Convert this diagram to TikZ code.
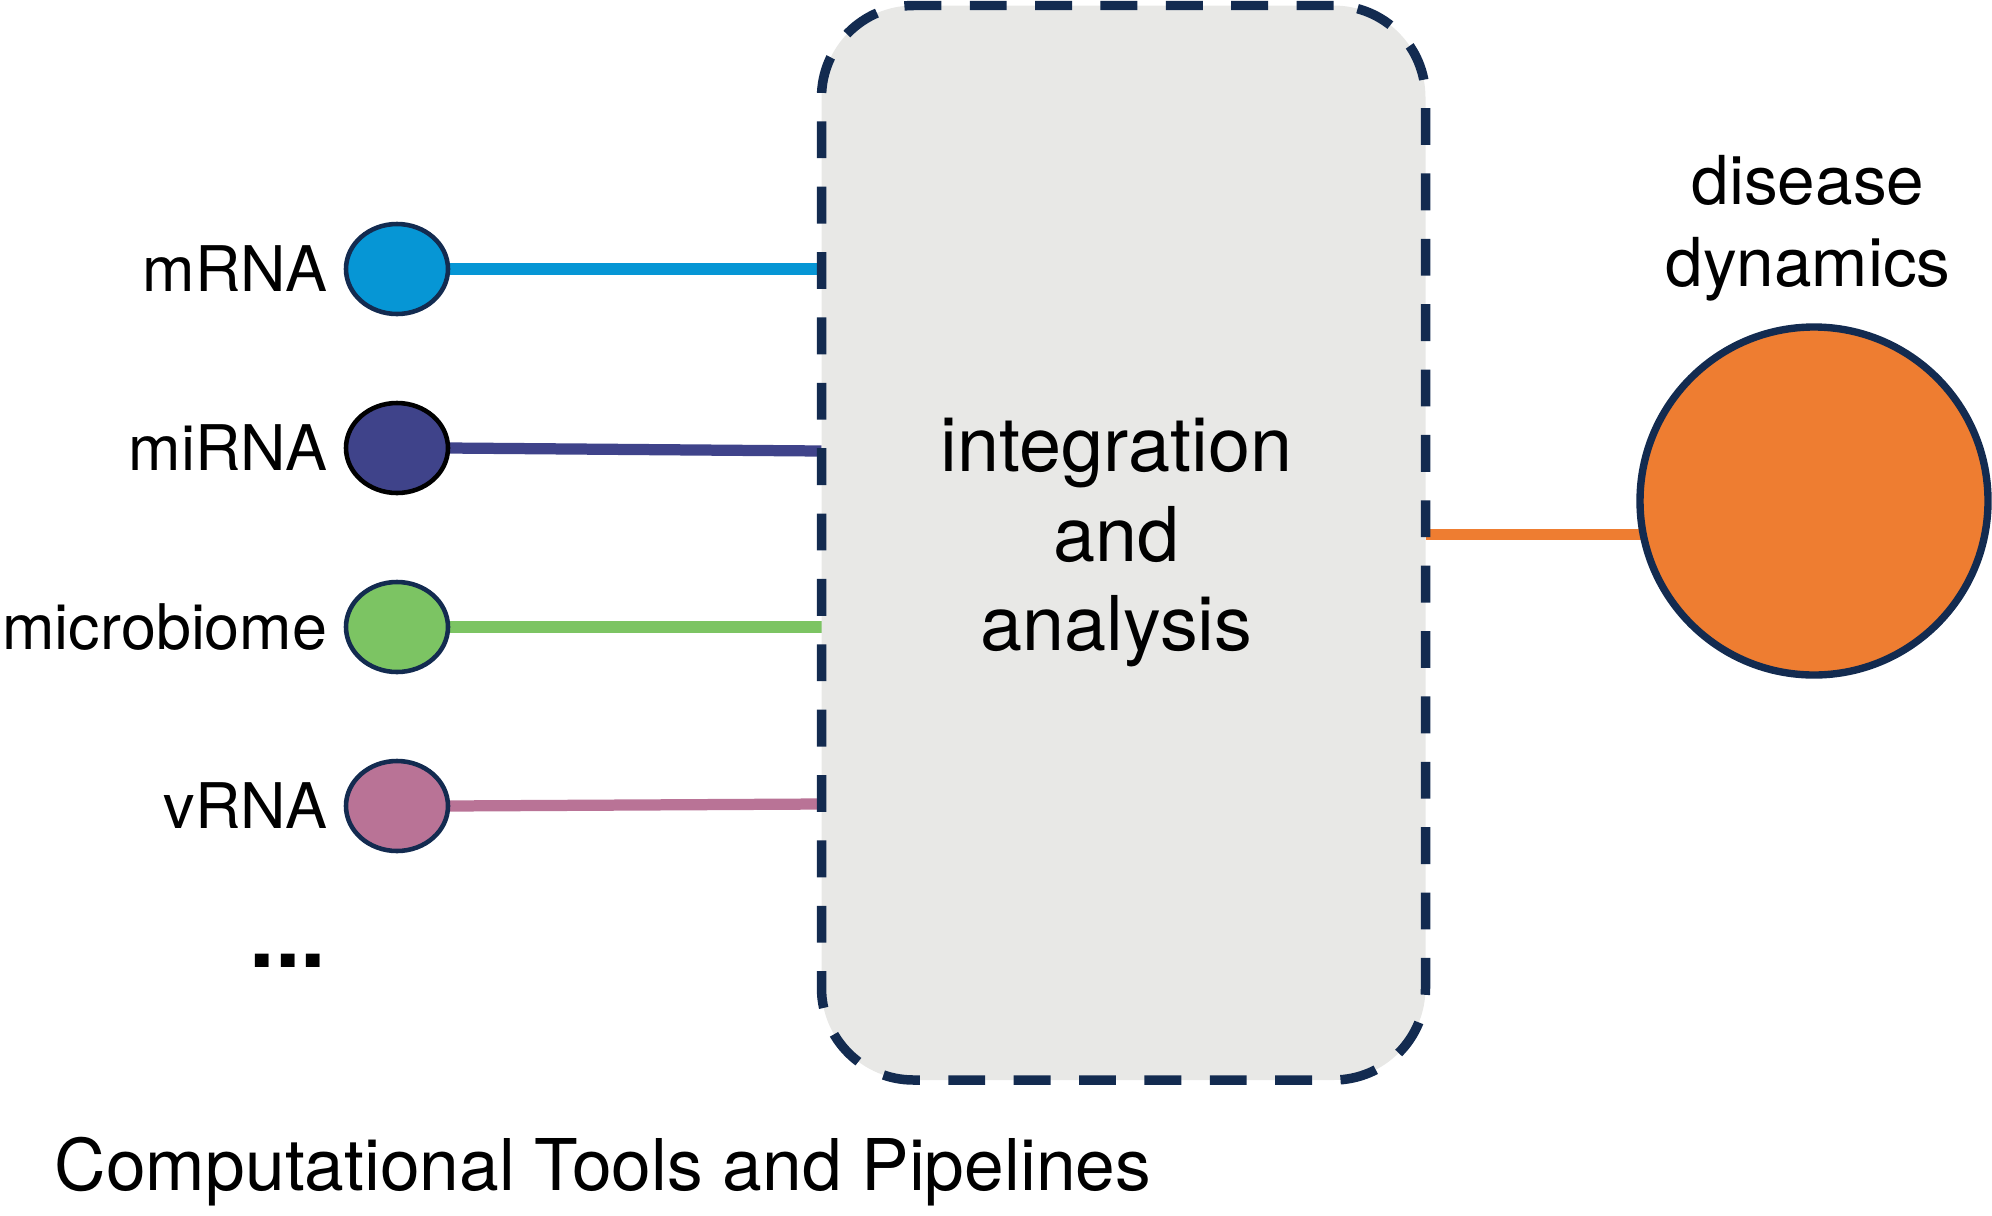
\documentclass[tikz,border=0pt]{standalone}
\usepackage{fontspec}
\setmainfont{TeX Gyre Heros}
\usepackage{tikz}
\usetikzlibrary{positioning,shapes.geometric,calc,backgrounds}

\definecolor{navy}{RGB}{19,43,80}
\definecolor{mrnablue}{RGB}{6,150,213}
\definecolor{mirnapurple}{RGB}{63,67,138}
\definecolor{microgreen}{RGB}{124,196,99}
\definecolor{vrnapink}{RGB}{185,115,150}
\definecolor{dynorange}{RGB}{238,125,49}
\definecolor{boxgray}{RGB}{232,232,230}

\tikzset{
  omic/.style={ellipse, draw=navy, line width=1.3pt, minimum width=1.02cm,
    minimum height=0.9cm, inner sep=0pt, outer sep=0pt},
  omiclabel/.style={inner sep=0pt, font=\fontsize{17.9}{21}\selectfont},
  intbox/.style={draw=navy, fill=boxgray, line width=2.7pt, rounded corners=0.92cm,
    dash pattern=on 10.5pt off 8.1pt, minimum width=6.04cm, minimum height=10.745cm,
    inner sep=0pt, outer sep=0pt},
  target/.style={circle, draw=navy, fill=dynorange, line width=2.1pt,
    minimum size=3.48cm, outer sep=0pt},
  link/.style={line width=3.2pt},
}

\begin{document}
\begin{tikzpicture}[node distance=1.79cm]
  \useasboundingbox (0,0) rectangle (19.92,-12.15);

  % data sources
  \node[omic, fill=mrnablue] (mrna) at (3.97,-2.69) {};
  \node[omic, fill=mirnapurple, draw=black] (mirna) [below of=mrna] {};
  \node[omic, fill=microgreen] (micro) [below of=mirna] {};
  \node[omic, fill=vrnapink] (vrna) [below of=micro] {};

  \node[omiclabel, left=0.18cm of mrna] (mrnalabel) {mRNA};
  \node[omiclabel, left=0.18cm of mirna] (mirnalabel) {miRNA};
  \node[omiclabel, left=0.18cm of micro] (microlabel) {microbiome};
  \node[omiclabel, left=0.18cm of vrna] (vrnalabel) {vRNA};
  \node[anchor=base, inner sep=0pt, font=\bfseries\fontsize{26}{30}\selectfont] (more) at (2.88,-9.67) {...};

  % integration
  \node[intbox] (box) at (11.235,-5.4275) {};
  \node[align=center, inner sep=0pt, font=\fontsize{21.5}{25.5}\selectfont] (boxtext)
    at ($(box.center)+(-0.07,0)$) {integration\\and\\analysis};

  % outcome
  \node[target] (dyn) at (18.14,-5.01) {};
  \node[above=0.25cm of dyn, xshift=-0.06cm, align=center, inner sep=0pt,
    font=\fontsize{19.2}{23.5}\selectfont] (dynlabel) {disease\\dynamics};

  \node[anchor=base west, inner sep=0pt, font=\fontsize{20.3}{24}\selectfont] (title)
    at (0.54,-11.90) {Computational Tools and Pipelines};

  \begin{scope}[on background layer]
    \draw[link, mrnablue] (mrna.east) -- (box.west |- mrna.east);
    \draw[link, mirnapurple] (mirna.east) -- ($(box.west |- mirna.east)+(0,-0.03)$);
    \draw[link, microgreen] (micro.east) -- (box.west |- micro.east);
    \draw[link, vrnapink] (vrna.east) -- ($(box.west |- vrna.east)+(0,0.02)$);
    \draw[link, dynorange] (box.east |- dyn.191) -- (dyn.191);
  \end{scope}
\end{tikzpicture}
\end{document}
